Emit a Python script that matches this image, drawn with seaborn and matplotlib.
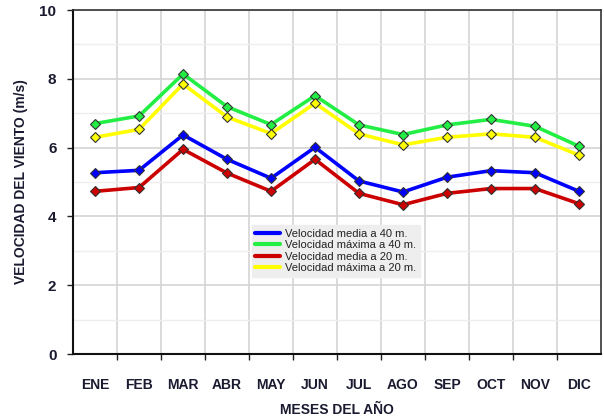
import matplotlib
matplotlib.use("Agg")
import matplotlib.pyplot as plt
from matplotlib.lines import Line2D
from matplotlib.ticker import MultipleLocator, FixedLocator
import seaborn as sns
import pandas as pd

meses = ["ENE", "FEB", "MAR", "ABR", "MAY", "JUN", "JUL", "AGO", "SEP", "OCT", "NOV", "DIC"]
media_40 = [5.27, 5.34, 6.37, 5.66, 5.11, 6.01, 5.03, 4.71, 5.14, 5.33, 5.27, 4.73]
maxima_40 = [6.70, 6.92, 8.14, 7.19, 6.67, 7.51, 6.66, 6.38, 6.66, 6.82, 6.62, 6.04]
media_20 = [4.73, 4.84, 5.95, 5.26, 4.73, 5.66, 4.67, 4.34, 4.67, 4.81, 4.81, 4.37]
maxima_20 = [6.30, 6.53, 7.85, 6.89, 6.41, 7.29, 6.40, 6.08, 6.30, 6.40, 6.30, 5.78]

series = ["Velocidad media a 40 m.", "Velocidad máxima a 40 m.",
          "Velocidad media a 20 m.", "Velocidad máxima a 20 m."]
colores = ["#0000ff", "#22ee44", "#cc0000", "#ffff00"]

rows = []
for nombre, vals in zip(series, [media_40, maxima_40, media_20, maxima_20]):
    for i, v in enumerate(vals):
        rows.append({"mes": i, "serie": nombre, "v": v})
df = pd.DataFrame(rows)

sns.set_style("white")
plt.rcParams["font.family"] = ["Liberation Sans", "DejaVu Sans"]

fig = plt.figure(figsize=(6.04, 4.17), dpi=100)
ax = fig.add_axes([0.121, 0.151, 0.874, 0.825])

sns.lineplot(data=df, x="mes", y="v", hue="serie", hue_order=series,
             palette=colores, marker="D", markersize=5.5, markeredgecolor="#333333",
             markeredgewidth=0.8, linewidth=2.6, ax=ax, legend=False)

ax.set_xlim(-0.5, 11.5)
ax.set_ylim(0, 10)

ax.xaxis.set_major_locator(FixedLocator(range(12)))
ax.xaxis.set_minor_locator(FixedLocator([k + 0.5 for k in range(11)]))
ax.set_xticklabels(meses)
ax.yaxis.set_major_locator(MultipleLocator(2))
ax.yaxis.set_minor_locator(MultipleLocator(1))

ax.grid(False)
ax.grid(True, axis="x", which="minor", color="#d4d4d4", linewidth=1.2)
ax.grid(True, axis="y", which="major", color="#d4d4d4", linewidth=1.2)
ax.grid(True, axis="y", which="minor", color="#eeeeee", linewidth=1.0)
ax.set_axisbelow(True)

lab_color = "#1a1a30"
ax.tick_params(axis="x", which="major", length=0, pad=17, labelsize=10, labelcolor=lab_color)
ax.tick_params(axis="x", which="minor", length=4, width=1, direction="out", color="#222222", bottom=True)
ax.tick_params(axis="y", which="major", length=4, width=1, direction="out", pad=8,
               labelsize=11, labelcolor=lab_color, color="#222222", left=True)
ax.tick_params(axis="y", which="minor", length=0)
for t in ax.get_xticklabels() + ax.get_yticklabels():
    t.set_fontweight("bold")

for s in ["left", "bottom"]:
    ax.spines[s].set_color("#111111")
    ax.spines[s].set_linewidth(1.5)
for s in ["top", "right"]:
    ax.spines[s].set_color("#333333")
    ax.spines[s].set_linewidth(1.2)

ax.set_xlabel("MESES DEL AÑO", fontsize=10, fontweight="bold", color=lab_color, labelpad=8)
ax.set_ylabel("VELOCIDAD DEL VIENTO (m/s)", fontsize=10, fontweight="bold", color=lab_color, labelpad=8)

handles = [Line2D([0], [0], color=c, linewidth=3) for c in colores]
leg = ax.legend(handles, series, loc="upper left", bbox_to_anchor=(0.338, 0.375),
                frameon=True, handlelength=2.2, handletextpad=0.5,
                labelspacing=0.12, borderpad=0.35, borderaxespad=0,
                prop={"family": ["Liberation Sans", "DejaVu Sans"], "size": 8})
leg.get_frame().set_facecolor("#eeeeee")
leg.get_frame().set_edgecolor("#eeeeee")
leg.get_frame().set_alpha(1)
leg.get_frame().set_boxstyle("square", pad=0)
for t in leg.get_texts():
    t.set_color("#222222")

fig.savefig("out.png", dpi=100, facecolor="white")
